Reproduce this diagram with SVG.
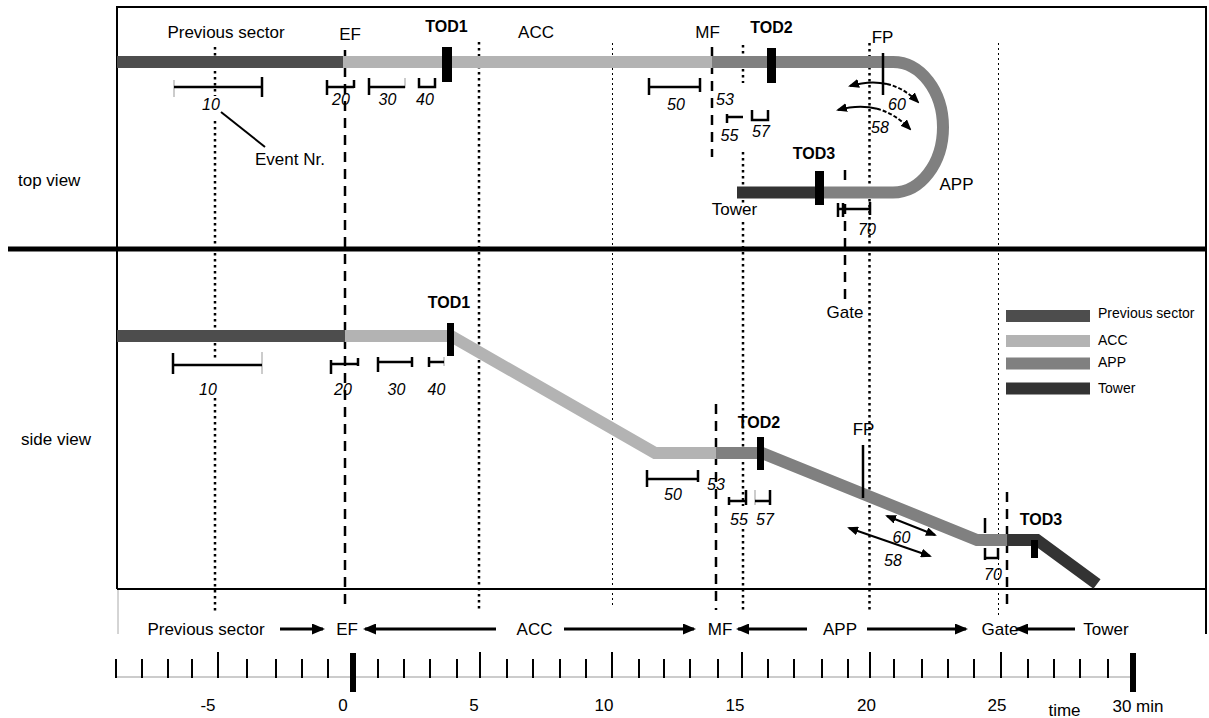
<svg xmlns="http://www.w3.org/2000/svg" width="1209" height="718" viewBox="0 0 1209 718">
<style>
text{font-family:"Liberation Sans",Arial,sans-serif;fill:#000}
.t{font-size:17px}
.lg{font-size:14px}
.b{font-size:16px;font-weight:bold}
.n{font-size:16px;font-style:italic;text-anchor:middle}
.c{text-anchor:middle}
.dot{stroke:#000;stroke-width:2.5;stroke-dasharray:2.5 3.5;fill:none}
.tdot{stroke:#000;stroke-width:1;stroke-dasharray:2 3;fill:none}
.dash{stroke:#000;stroke-width:2.5;stroke-dasharray:10 7;fill:none}
.br{stroke:#000;stroke-width:2.5;fill:none}
.brg{stroke:#999;stroke-width:1;fill:none}
.bar{fill:none;stroke-width:12;stroke-linejoin:miter}
.prev{stroke:#4d4d4d}.acc{stroke:#b3b3b3}.app{stroke:#808080}.twr{stroke:#333}
.ar{stroke:#000;stroke-width:2;fill:none}
.arb{stroke:#000;stroke-width:3;fill:none}
</style>
<defs>
<marker id="ah" markerUnits="userSpaceOnUse" markerWidth="11" markerHeight="9" refX="9" refY="4.5" orient="auto-start-reverse"><path d="M0,0 L11,4.5 L0,9 z" fill="#000"/></marker>
<marker id="ahb" markerUnits="userSpaceOnUse" markerWidth="13" markerHeight="11" refX="11" refY="5.5" orient="auto-start-reverse"><path d="M0,0 L13,5.5 L0,11 z" fill="#000"/></marker>
</defs>

<g id="frame">
<line x1="116" y1="7" x2="1206" y2="7" stroke="#000" stroke-width="2"/>
<line x1="117" y1="6" x2="117" y2="589" stroke="#000" stroke-width="2"/>
<line x1="118" y1="589" x2="118" y2="634" stroke="#aaa" stroke-width="1"/>
<line x1="1206" y1="6" x2="1206" y2="634" stroke="#000" stroke-width="2"/>
<line x1="117" y1="589" x2="1206" y2="589" stroke="#000" stroke-width="2"/>
<line x1="8" y1="249" x2="1206" y2="249" stroke="#000" stroke-width="5"/>
<text class="t" x="18" y="186">top view</text>
<text class="t" x="21" y="445">side view</text>
</g>

<g id="guides">
<path class="dot" d="M215 47V96M215 121V360M215 398V612"/>
<path class="dash" d="M345 50V610"/>
<path class="dot" d="M479 42V612"/>
<path class="tdot" d="M612.5 43V607"/>
<path class="dash" d="M712 47V157"/>
<path class="dash" d="M716 404V610"/>
<path class="dot" d="M743 45V83M743 152V205M743 222V506M743 529V613"/>
<path class="dash" d="M845 170V300"/>
<path class="dot" d="M869.5 43V610"/>
<path class="tdot" d="M998.5 43V616"/>
<path class="dash" d="M1007 492V610"/>
</g>

<g id="top-view">
<path class="bar prev" d="M117 62H343"/>
<path class="bar acc" d="M343 62H712"/>
<path class="bar app" d="M712 62H893A50 65.25 0 0 1 893 192.5H820"/>
<path class="bar twr" d="M737 192.5H820"/>
<rect x="442" y="47" width="10" height="35" fill="#000"/>
<rect x="767" y="48" width="9" height="35" fill="#000"/>
<rect x="815" y="171" width="9" height="34" fill="#000"/>
<line x1="883" y1="53" x2="883" y2="95" stroke="#000" stroke-width="2.5"/>
<text class="t c" x="226" y="38">Previous sector</text>
<text class="t c" x="350" y="40">EF</text>
<text class="t c" x="536" y="38">ACC</text>
<text class="t c" x="707.5" y="38">MF</text>
<text class="t c" x="882.5" y="43">FP</text>
<text class="b c" x="446.5" y="32">TOD1</text>
<text class="b c" x="771.5" y="33">TOD2</text>
<text class="b c" x="814" y="159">TOD3</text>
<text class="t c" x="734.5" y="215">Tower</text>
<text class="t c" x="956.5" y="190">APP</text>
<text class="t c" x="290" y="165">Event Nr.</text>
<line x1="221" y1="112" x2="265" y2="147" stroke="#000" stroke-width="2"/>
<text class="t c" x="845" y="318">Gate</text>
</g>

<g id="top-events">
<path class="brg" d="M174 80V97M405 78V88"/>
<path class="br" d="M174 87H262M262 77V97"/>
<path class="br" d="M327 80V95M327 87H354M354 80V88"/>
<path class="br" d="M369 78V95M369 87H405"/>
<path class="br" d="M419 78V87H435V78"/>
<path class="br" d="M649 78V95M649 87H700M700 78V92"/>
<path class="br" d="M727 114V123M727 117H743"/>
<path class="br" d="M752 110V120H768V110"/>
<path class="br" d="M838 203V217M843 203V217M838 209H870M870 202V215"/>
<text class="n" x="211" y="110">10</text>
<text class="n" x="341" y="105">20</text>
<text class="n" x="387.5" y="105">30</text>
<text class="n" x="425" y="105">40</text>
<text class="n" x="676" y="110">50</text>
<text class="n" x="725" y="105">53</text>
<text class="n" x="729.5" y="141">55</text>
<text class="n" x="761" y="137">57</text>
<text class="n" x="897" y="110">60</text>
<text class="n" x="880" y="133">58</text>
<text class="n" x="867" y="235">70</text>
<path class="ar" marker-start="url(#ah)" d="M850 86Q870 80 887 84"/>
<path class="ar" stroke-dasharray="4 2" marker-end="url(#ah)" d="M887 84Q904 88 918 102"/>
<path class="ar" marker-start="url(#ah)" d="M838 110Q859 104 877 108.75"/>
<path class="ar" stroke-dasharray="4 2" marker-end="url(#ah)" d="M877 108.75Q895 113.5 910 129"/>
</g>

<g id="side-view">
<path class="bar prev" d="M117 336H345"/>
<path class="bar acc" d="M345 336H451L655 453H716"/>
<path class="bar app" d="M716 453H762L977 540H1007"/>
<path class="bar twr" d="M1007 540H1037L1097 584"/>
<rect x="447" y="323" width="7" height="33" fill="#000"/>
<rect x="757" y="437" width="7" height="33" fill="#000"/>
<rect x="1031" y="540" width="7" height="18" fill="#000"/>
<line x1="863" y1="445" x2="863" y2="498" stroke="#000" stroke-width="2.5"/>
<text class="b c" x="449" y="308">TOD1</text>
<text class="b c" x="759" y="428">TOD2</text>
<text class="b c" x="1041" y="525">TOD3</text>
<text class="t c" x="863.5" y="435">FP</text>
</g>

<g id="side-events">
<path class="brg" d="M262 352V374M444 357V366M755 490V505"/>
<path class="br" d="M173 353V374M173 365H262"/>
<path class="br" d="M331 360V374M331 364H358M358 358V366"/>
<path class="br" d="M378 357V372M378 362H412M412 357V367"/>
<path class="br" d="M429 357V367M429 362H444"/>
<path class="br" d="M647 470V487M647 479H698M698 470V482"/>
<path class="br" d="M729 497V505M729 501H746M746 490V505"/>
<path class="br" d="M755 501H770M770 490V505"/>
<path class="br" d="M985 518V533M985 548V560M985 558H998V548"/>
<text class="n" x="208" y="395">10</text>
<text class="n" x="343" y="395">20</text>
<text class="n" x="396.5" y="395">30</text>
<text class="n" x="436.5" y="395">40</text>
<text class="n" x="673" y="500">50</text>
<text class="n" x="716" y="490">53</text>
<text class="n" x="739" y="525">55</text>
<text class="n" x="765" y="525">57</text>
<text class="n" x="901.5" y="543">60</text>
<text class="n" x="893" y="566">58</text>
<text class="n" x="993" y="580">70</text>
<line class="ar" marker-start="url(#ah)" marker-end="url(#ah)" x1="887" y1="516" x2="935" y2="535"/>
<line class="ar" marker-start="url(#ah)" marker-end="url(#ah)" x1="849" y1="528" x2="930" y2="556"/>
</g>

<g id="legend">
<rect x="1006" y="310" width="84" height="12" fill="#4d4d4d"/>
<rect x="1006" y="335" width="84" height="12" fill="#b3b3b3"/>
<rect x="1006" y="357.5" width="84" height="12" fill="#808080"/>
<rect x="1006" y="382.5" width="84" height="12" fill="#333"/>
<text class="lg" x="1098" y="318">Previous sector</text>
<text class="lg" x="1098" y="345">ACC</text>
<text class="lg" x="1098" y="367">APP</text>
<text class="lg" x="1098" y="393">Tower</text>
</g>

<g id="sectors">
<text class="t c" x="206" y="635">Previous sector</text>
<text class="t c" x="347" y="635">EF</text>
<text class="t c" x="534.5" y="635">ACC</text>
<text class="t c" x="720" y="635">MF</text>
<text class="t c" x="840" y="635">APP</text>
<text class="t c" x="1000" y="635">Gate</text>
<text class="t c" x="1106" y="635">Tower</text>
</g>

<g id="connectors">
<line class="arb" marker-end="url(#ahb)" x1="280" y1="629" x2="323" y2="629"/>
<line class="arb" marker-end="url(#ahb)" x1="496" y1="629" x2="365" y2="629"/>
<line class="arb" marker-end="url(#ahb)" x1="564" y1="629" x2="694" y2="629"/>
<line class="arb" marker-end="url(#ahb)" x1="807" y1="629" x2="738" y2="629"/>
<line class="arb" marker-end="url(#ahb)" x1="867" y1="629" x2="966" y2="629"/>
<line class="arb" marker-end="url(#ahb)" x1="1075" y1="629" x2="1017" y2="629"/>
</g>

<g id="axis">
<line x1="115" y1="677" x2="1135" y2="677" stroke="#999" stroke-width="1"/>
<path stroke="#000" stroke-width="2" fill="none" d="M116 659V678M142 659V678M168 659V678M192 659V678M247 659V678M276 659V678M302 659V678M328 659V678M378 659V678M404 659V678M430 659V678M457 659V678M507 659V678M533 659V678M560 659V678M586 659V678M639 659V678M664 659V678M690 659V678M718 659V678M768 659V678M794 659V678M822 659V678M848 659V678M894 659V678M922 659V678M948 659V678M974 659V678M1028 659V678M1054 659V678M1080 659V678M1108 659V678"/>
<path stroke="#000" stroke-width="2" fill="none" d="M218 652V678M480 652V678M612 652V678M742 652V678M870 652V678M1001 652V678"/>
<path stroke="#000" stroke-width="6" fill="none" d="M353 653V692M1133 653V692"/>
<text class="t c" x="208" y="711">-5</text>
<text class="t c" x="343" y="711">0</text>
<text class="t c" x="474" y="711">5</text>
<text class="t c" x="604" y="711">10</text>
<text class="t c" x="735" y="711">15</text>
<text class="t c" x="866.5" y="711">20</text>
<text class="t c" x="997" y="711">25</text>
<text class="t c" x="1064.5" y="716">time</text>
<text class="t c" x="1138" y="712">30 min</text>
</g>
</svg>
